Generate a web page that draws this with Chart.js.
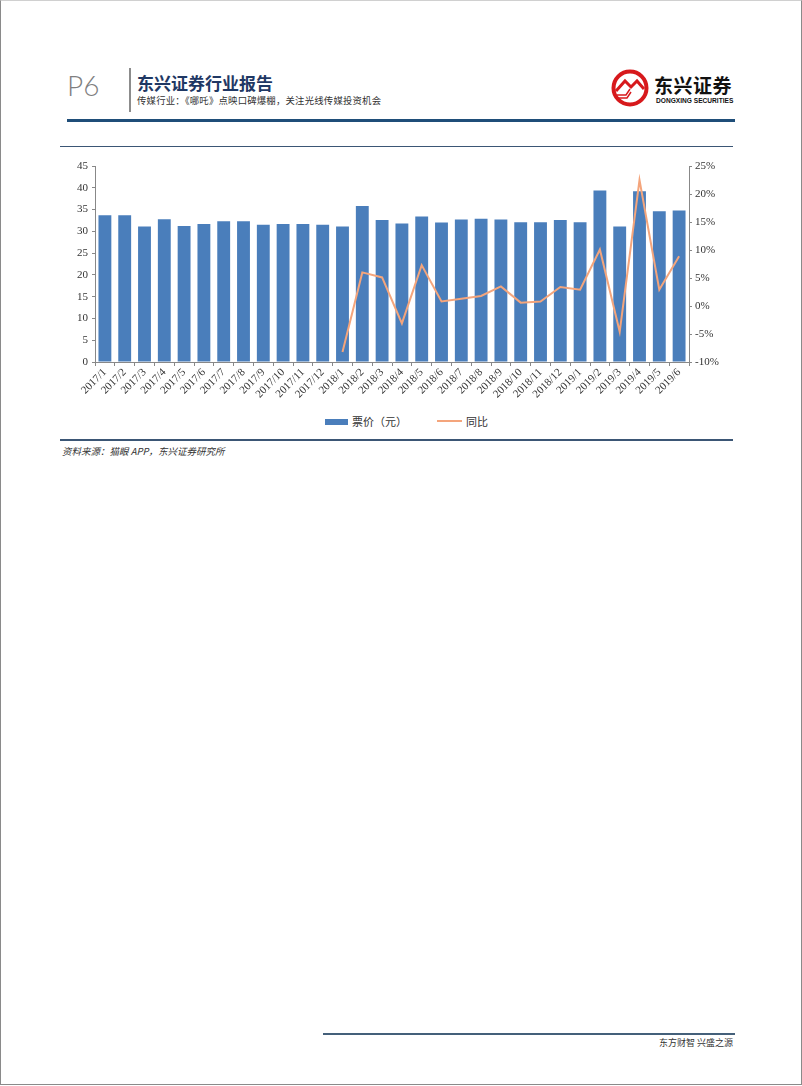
<!DOCTYPE html>
<html>
<head>
<meta charset="utf-8">
<script src="https://cdn.jsdelivr.net/npm/chart.js@4/dist/chart.umd.min.js"></script>
<style>
  body { margin: 0; background: #fff; font-family: "Noto Sans CJK SC", "Noto Sans", sans-serif; }
  .page { position: absolute; left: 0; top: 0; width: 800px; height: 1083px; border: 1px solid #8a8a8a; border-top-color: #d0d0d0; }
  .abs { position: absolute; white-space: nowrap; }
</style>
</head>
<body>
<div class="page"></div>

<!-- en-tête -->
<div class="abs" style="left:67px;top:68px;font:300 28px Lato, 'Open Sans', sans-serif;color:#7f7f7f;">P6</div>
<div class="abs" style="left:129px;top:68px;width:2px;height:44px;background:#8c8c8c;"></div>
<div class="abs" style="left:137px;top:72px;font-weight:bold;font-size:17px;color:#1f3864;line-height:22px;">东兴证券行业报告</div>
<div class="abs" style="left:137px;top:94px;font-size:9.4px;color:#333;line-height:13px;letter-spacing:0.2px;">传媒行业：《哪吒》点映口碑爆棚，关注光线传媒投资机会</div>
<div class="abs" style="left:67px;top:119px;width:668px;height:3px;background:#1f4e79;"></div>

<!-- logo -->
<svg class="abs" style="left:611px;top:69px;" width="38" height="38" viewBox="0 0 38 38">
  <circle cx="19" cy="19" r="16.5" fill="none" stroke="#d7191c" stroke-width="4"/>
  <path d="M5 22 L14 12 L20 18 L26 12 L33 20" fill="none" stroke="#d7191c" stroke-width="3"/>
  <path d="M6 26 L15 26 L19 20 M6 29 L16 29 L20 23" fill="none" stroke="#d7191c" stroke-width="1.5"/>
</svg>
<div class="abs" style="left:654px;top:73px;font-weight:bold;font-size:19px;color:#111;line-height:24px;letter-spacing:0.5px;">东兴证券</div>
<div class="abs" style="left:656px;top:97px;font:bold 6.6px 'Liberation Sans', Arial, sans-serif;color:#111;">DONGXING SECURITIES</div>

<!-- cadre du graphique -->
<div class="abs" style="left:60px;top:146px;width:673px;height:1px;background:#3b5675;"></div>
<div class="abs" style="left:60px;top:439px;width:673px;height:2px;background:#3b5675;"></div>

<div class="abs" style="left:60px;top:150px;width:692px;height:250px;">
  <canvas id="myChart"></canvas>
</div>

<!-- légende -->
<div class="abs" style="left:325px;top:419px;width:23px;height:6px;background:#4a7ebb;"></div>
<div class="abs" style="left:352px;top:413px;font-size:11px;color:#333;line-height:16px;">票价（元）</div>
<div class="abs" style="left:437px;top:420px;width:25px;height:2px;background:#f4a57c;"></div>
<div class="abs" style="left:466px;top:413px;font-size:11px;color:#333;line-height:16px;">同比</div>

<div class="abs" style="left:62px;top:444px;font-size:9.5px;font-style:italic;color:#333;line-height:14px;">资料来源：猫眼 APP，东兴证券研究所</div>

<!-- pied de page -->
<div class="abs" style="left:323px;top:1033px;width:412px;height:2px;background:#44607a;"></div>
<div class="abs" style="left:600px;top:1036px;width:133px;text-align:right;font-size:9px;color:#333;line-height:13px;">东方财智 兴盛之源</div>

<script>
// Mois (axe X)
const mois = [
  '2017/1','2017/2','2017/3','2017/4','2017/5','2017/6','2017/7','2017/8','2017/9','2017/10','2017/11','2017/12',
  '2018/1','2018/2','2018/3','2018/4','2018/5','2018/6','2018/7','2018/8','2018/9','2018/10','2018/11','2018/12',
  '2019/1','2019/2','2019/3','2019/4','2019/5','2019/6'
];
// Prix moyen du billet (yuan)
const prixBillet = [
  33.7, 33.7, 31.1, 32.8, 31.2, 31.7, 32.3, 32.3, 31.5, 31.7, 31.7, 31.5,
  31.1, 35.8, 32.6, 31.8, 33.4, 32.0, 32.7, 32.9, 32.7, 32.1, 32.1, 32.6,
  32.1, 39.4, 31.1, 39.2, 34.6, 34.8
];
// Variation sur un an (%)
const variationAnnuelle = [
  null, null, null, null, null, null, null, null, null, null, null, null,
  -8.2, 6.0, 5.1, -3.1, 7.3, 0.8, 1.3, 1.8, 3.5, 0.6, 0.8, 3.4,
  2.9, 10.1, -4.6, 22.5, 2.9, 8.9
];
const ticksGauche = [0, 5, 10, 15, 20, 25, 30, 35, 40, 45];
const ticksDroite = [-10, -5, 0, 5, 10, 15, 20, 25];

const policeAxe = { family: "'Liberation Serif', 'DejaVu Serif', serif", size: 11 };

const ctx = document.getElementById('myChart').getContext('2d');
const myChart = new Chart(ctx, {
  data: {
    labels: mois,
    datasets: [{
      type: 'bar',
      label: '票价（元）',
      data: prixBillet,
      backgroundColor: '#4a7ebb',
      barPercentage: 0.65,
      categoryPercentage: 1,
      yAxisID: 'y',
      order: 2
    }, {
      type: 'line',
      label: '同比',
      data: variationAnnuelle,
      borderColor: '#f4a57c',
      backgroundColor: '#f4a57c',
      borderWidth: 2,
      pointRadius: 0,
      tension: 0,
      yAxisID: 'y1',
      order: 1
    }]
  },
  options: {
    responsive: true,
    maintainAspectRatio: false,
    animation: false,
    layout: { padding: { top: 16, left: 0, right: 0, bottom: 0 } },
    plugins: {
      tooltip: { enabled: false },
      legend: { display: false } // légende faite en HTML en dessous
    },
    scales: {
      x: {
        offset: true,
        grid: { display: true, offset: true, drawOnChartArea: false, drawTicks: true, tickLength: 4, color: '#888' },
        border: { display: true, color: '#888' },
        ticks: { minRotation: 45, maxRotation: 45, autoSkip: false, color: '#333', font: policeAxe, padding: 0 },
        afterFit: function (scale) { scale.height = 38; }
      },
      y: {
        position: 'left',
        min: 0,
        max: 45,
        afterBuildTicks: function (scale) { scale.ticks = ticksGauche.map(v => ({ value: v })); },
        grid: { drawOnChartArea: false, drawTicks: true, tickLength: 3, color: '#888' },
        border: { display: true, color: '#888' },
        ticks: { color: '#333', font: policeAxe, padding: 4 },
        afterFit: function (scale) { scale.width = 35; }
      },
      y1: {
        position: 'right',
        min: -10,
        max: 25,
        afterBuildTicks: function (scale) { scale.ticks = ticksDroite.map(v => ({ value: v })); },
        grid: { drawOnChartArea: false, drawTicks: true, tickLength: 3, color: '#888' },
        border: { display: true, color: '#888' },
        ticks: { color: '#333', font: policeAxe, padding: 3, callback: v => v + '%' },
        afterFit: function (scale) { scale.width = 63; }
      }
    }
  }
});
</script>
</body>
</html>
